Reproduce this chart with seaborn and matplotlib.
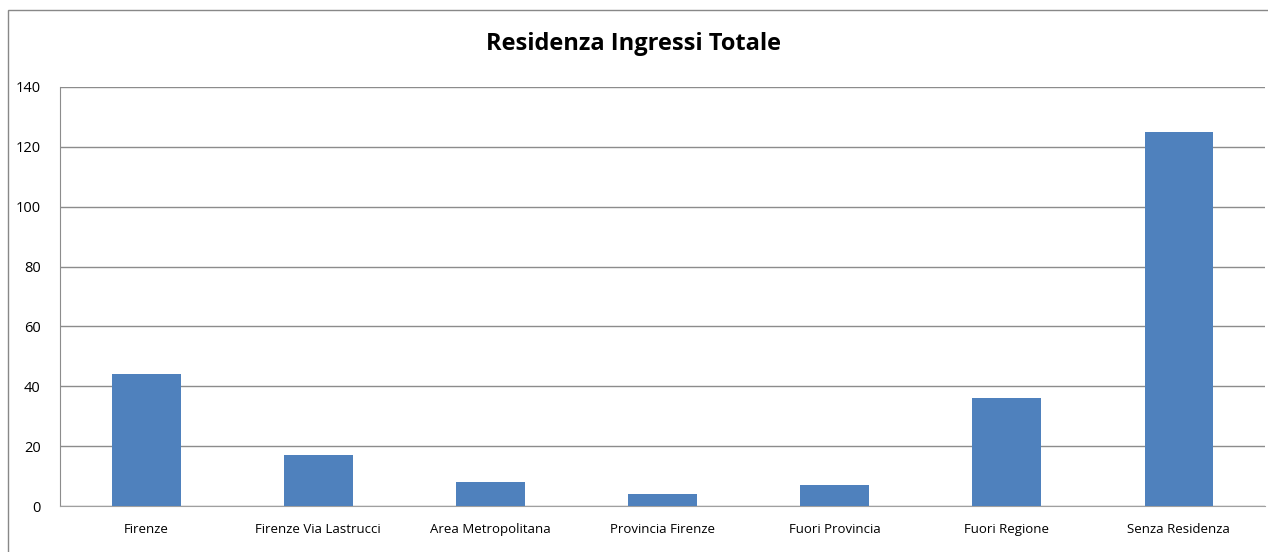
import matplotlib
matplotlib.use("Agg")
import matplotlib.pyplot as plt
import seaborn as sns
import pandas as pd
from matplotlib.patches import Rectangle

categories = ["Firenze", "Firenze Via Lastrucci", "Area Metropolitana", "Provincia Firenze",
              "Fuori Provincia", "Fuori Regione", "Senza Residenza"]
values = [44, 17, 8, 4, 7, 36, 125]
yticks = [0, 20, 40, 60, 80, 100, 120, 140]

df = pd.DataFrame({"cat": categories, "val": values})

sns.set_style("white")
plt.rcParams['font.family'] = ['Open Sans', 'DejaVu Sans']

fig = plt.figure(figsize=(12.68, 5.52), dpi=100)
ax = fig.add_axes([60 / 1268, 46 / 552, 1205 / 1268, 419 / 552])

# chart border
fig.patches.append(Rectangle((8 / 1268, -0.1), 1.2, (552 - 10) / 552 + 0.1,
                             transform=fig.transFigure, fill=False,
                             edgecolor="#888888", linewidth=1))

sns.barplot(data=df, x="cat", y="val", color="#4F81BD", saturation=1, width=0.4,
            linewidth=0, ax=ax, zorder=3)

ax.set_ylim(0, 140)
ax.set_xlim(-0.5, 6.5)
ax.set_yticks(yticks)
ax.yaxis.grid(True, color="#8c8c8c", linewidth=1)
ax.set_axisbelow(True)
for s in ["top", "right"]:
    ax.spines[s].set_visible(False)
ax.spines["left"].set_color("#8c8c8c")
ax.spines["bottom"].set_color("#a0a0a0")
ax.tick_params(axis="y", labelsize=10.5, length=0, pad=14, labelcolor="black")
ax.tick_params(axis="x", labelsize=9.5, length=0, pad=12, labelcolor="black")
ax.set_xlabel("")
ax.set_ylabel("")

fig.text(0.5, 0.92, "Residenza Ingressi Totale", ha="center", va="center",
         fontsize=17, fontweight="bold", color="black")

fig.savefig("out.png", dpi=100)
